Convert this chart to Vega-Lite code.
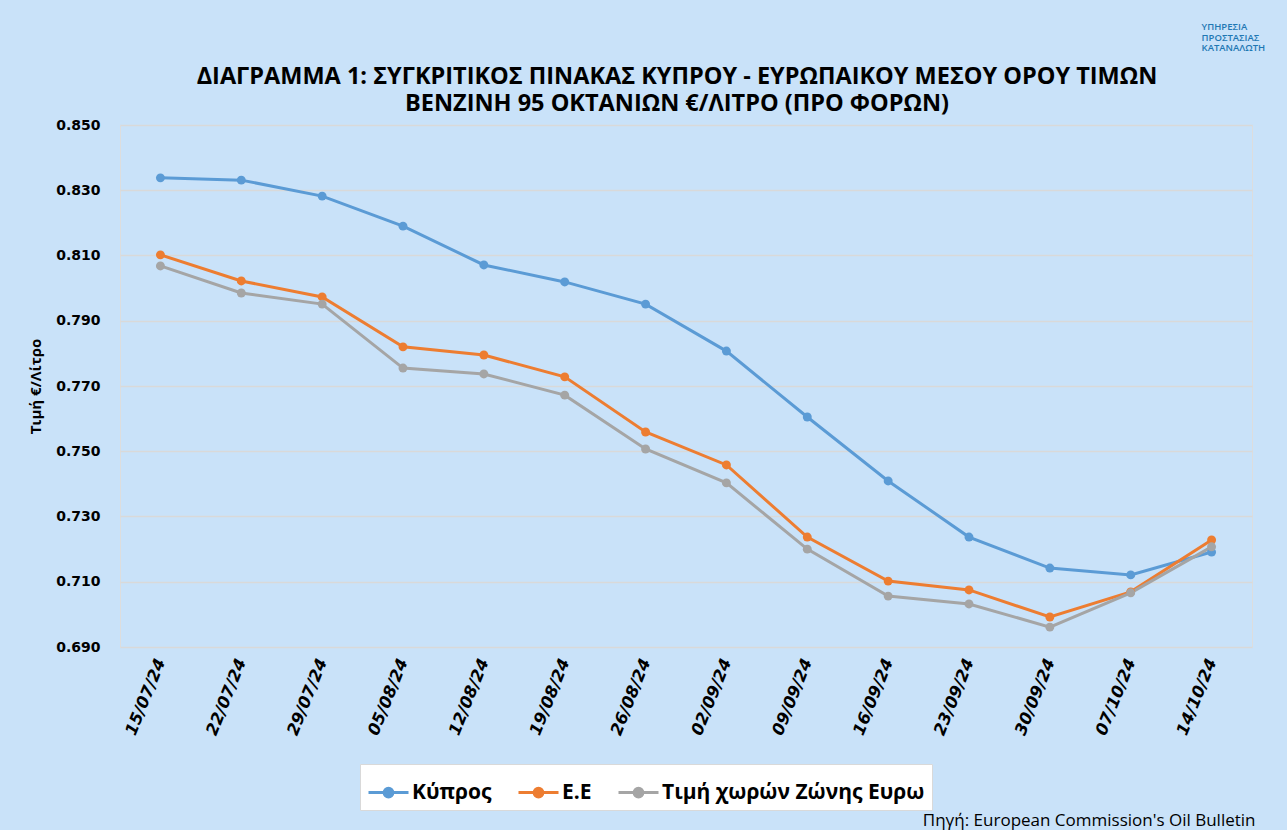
{
  "$schema": "https://vega.github.io/schema/vega-lite/v6.json",
  "width": 1132,
  "height": 522,
  "autosize": {"type": "none"},
  "padding": {"left": 120, "top": 125, "right": 35, "bottom": 183},
  "background": "#c9e2f9",
  "title": {
    "text": ["ΔΙΑΓΡΑΜΜΑ 1: ΣΥΓΚΡΙΤΙΚΟΣ ΠΙΝΑΚΑΣ ΚΥΠΡΟΥ - ΕΥΡΩΠΑΙΚΟΥ ΜΕΣΟΥ ΟΡΟΥ ΤΙΜΩΝ", "ΒΕΝΖΙΝΗ 95 ΟΚΤΑΝΙΩΝ €/ΛΙΤΡΟ (ΠΡΟ ΦΟΡΩΝ)"],
    "font": "Open Sans",
    "fontSize": 23.5,
    "fontWeight": "bold",
    "color": "#000000",
    "lineHeight": 27,
    "anchor": "middle",
    "dx": -9,
    "offset": -93
  },
  "datasets": {
    "prices": [
      {"date": "15/07/24", "series": "Κύπρος", "value": 0.8338},
      {"date": "22/07/24", "series": "Κύπρος", "value": 0.8331},
      {"date": "29/07/24", "series": "Κύπρος", "value": 0.8282},
      {"date": "05/08/24", "series": "Κύπρος", "value": 0.8190},
      {"date": "12/08/24", "series": "Κύπρος", "value": 0.8071},
      {"date": "19/08/24", "series": "Κύπρος", "value": 0.8019},
      {"date": "26/08/24", "series": "Κύπρος", "value": 0.7951},
      {"date": "02/09/24", "series": "Κύπρος", "value": 0.7807},
      {"date": "09/09/24", "series": "Κύπρος", "value": 0.7605},
      {"date": "16/09/24", "series": "Κύπρος", "value": 0.7409},
      {"date": "23/09/24", "series": "Κύπρος", "value": 0.7237},
      {"date": "30/09/24", "series": "Κύπρος", "value": 0.7142},
      {"date": "07/10/24", "series": "Κύπρος", "value": 0.7121},
      {"date": "14/10/24", "series": "Κύπρος", "value": 0.7191},
      {"date": "15/07/24", "series": "Ε.Ε", "value": 0.8102},
      {"date": "22/07/24", "series": "Ε.Ε", "value": 0.8022},
      {"date": "29/07/24", "series": "Ε.Ε", "value": 0.7973},
      {"date": "05/08/24", "series": "Ε.Ε", "value": 0.7820},
      {"date": "12/08/24", "series": "Ε.Ε", "value": 0.7795},
      {"date": "19/08/24", "series": "Ε.Ε", "value": 0.7728},
      {"date": "26/08/24", "series": "Ε.Ε", "value": 0.7559},
      {"date": "02/09/24", "series": "Ε.Ε", "value": 0.7458},
      {"date": "09/09/24", "series": "Ε.Ε", "value": 0.7237},
      {"date": "16/09/24", "series": "Ε.Ε", "value": 0.7102},
      {"date": "23/09/24", "series": "Ε.Ε", "value": 0.7075},
      {"date": "30/09/24", "series": "Ε.Ε", "value": 0.6992},
      {"date": "07/10/24", "series": "Ε.Ε", "value": 0.7069},
      {"date": "14/10/24", "series": "Ε.Ε", "value": 0.7228},
      {"date": "15/07/24", "series": "Τιμή χωρών Ζώνης Ευρω", "value": 0.8068},
      {"date": "22/07/24", "series": "Τιμή χωρών Ζώνης Ευρω", "value": 0.7985},
      {"date": "29/07/24", "series": "Τιμή χωρών Ζώνης Ευρω", "value": 0.7951},
      {"date": "05/08/24", "series": "Τιμή χωρών Ζώνης Ευρω", "value": 0.7755},
      {"date": "12/08/24", "series": "Τιμή χωρών Ζώνης Ευρω", "value": 0.7737},
      {"date": "19/08/24", "series": "Τιμή χωρών Ζώνης Ευρω", "value": 0.7672},
      {"date": "26/08/24", "series": "Τιμή χωρών Ζώνης Ευρω", "value": 0.7507},
      {"date": "02/09/24", "series": "Τιμή χωρών Ζώνης Ευρω", "value": 0.7403},
      {"date": "09/09/24", "series": "Τιμή χωρών Ζώνης Ευρω", "value": 0.7200},
      {"date": "16/09/24", "series": "Τιμή χωρών Ζώνης Ευρω", "value": 0.7056},
      {"date": "23/09/24", "series": "Τιμή χωρών Ζώνης Ευρω", "value": 0.7032},
      {"date": "30/09/24", "series": "Τιμή χωρών Ζώνης Ευρω", "value": 0.6961},
      {"date": "07/10/24", "series": "Τιμή χωρών Ζώνης Ευρω", "value": 0.7066},
      {"date": "14/10/24", "series": "Τιμή χωρών Ζώνης Ευρω", "value": 0.7207}
    ]
  },
  "layer": [
    {
      "data": {"name": "prices"},
      "mark": {"type": "line", "strokeWidth": 3, "point": {"filled": true, "size": 80}},
      "encoding": {
        "x": {
          "field": "date",
          "type": "ordinal",
          "sort": null,
          "scale": {"type": "point", "padding": 0.5},
          "axis": {
            "title": "Πηγή: European Commission's Oil Bulletin",
            "titleFont": "Open Sans",
            "titleFontSize": 17,
            "titleFontWeight": "normal",
            "titleColor": "#000000",
            "titleX": 1135,
            "titleY": 178,
            "titleAlign": "right",
            "titleBaseline": "alphabetic",
            "labelAngle": -68,
            "labelAlign": "right",
            "labelBaseline": "middle",
            "labelFont": "DejaVu Sans",
            "labelFontSize": 16.5,
            "labelFontWeight": "bold",
            "labelFontStyle": "italic",
            "labelColor": "#000000",
            "labelPadding": 12,
            "ticks": false,
            "domain": false,
            "grid": false
          }
        },
        "y": {
          "field": "value",
          "type": "quantitative",
          "scale": {"domain": [0.69, 0.85], "nice": false, "zero": false},
          "axis": {
            "title": "Τιμή €/Λίτρο",
            "titleFont": "Open Sans",
            "titleFontSize": 15,
            "titleFontWeight": "bold",
            "titleColor": "#000000",
            "titlePadding": 12,
            "values": [0.69, 0.71, 0.73, 0.75, 0.77, 0.79, 0.81, 0.83, 0.85],
            "format": ".3f",
            "labelFont": "DejaVu Sans",
            "labelFontSize": 14,
            "labelFontWeight": "bold",
            "labelColor": "#000000",
            "labelPadding": 20,
            "ticks": false,
            "domain": false,
            "grid": true,
            "gridColor": "#d9d9d9",
            "gridWidth": 1.5
          }
        },
        "color": {
          "field": "series",
          "type": "nominal",
          "sort": ["Κύπρος", "Ε.Ε", "Τιμή χωρών Ζώνης Ευρω"],
          "scale": {"domain": ["Κύπρος", "Ε.Ε", "Τιμή χωρών Ζώνης Ευρω"], "range": ["#5b9bd5", "#ed7d31", "#a5a5a5"]},
          "legend": {
            "title": null,
            "orient": "none",
            "legendX": 240,
            "legendY": 639,
            "direction": "horizontal",
            "labelFont": "Open Sans",
            "labelFontSize": 21,
            "labelFontWeight": "bold",
            "labelColor": "#000000",
            "labelLimit": 500,
            "symbolType": "M-1,0H-0.22A0.22,0.22 0 1,1 0.22,0A0.22,0.22 0 1,1 -0.22,0M0.22,0H1",
            "symbolSize": 1600,
            "symbolStrokeWidth": 3,
            "columnPadding": 20,
            "labelOffset": 2,
            "fillColor": "#ffffff",
            "strokeColor": "#d9d9d9",
            "padding": 7,
            "encode": {"symbols": {"update": {"fill": {"scale": "color", "field": "value"}, "fillOpacity": {"value": 1}}}}
          }
        }
      }
    },
    {
      "data": {"values": [{}]},
      "mark": {"type": "text", "font": "Open Sans", "fontSize": 9.5, "fontWeight": 600, "color": "#1f78b4", "align": "left", "baseline": "top", "lineHeight": 10.5, "dx": -10},
      "encoding": {
        "x": {"datum": "14/10/24", "type": "ordinal"},
        "y": {"datum": 0.8815, "type": "quantitative"},
        "text": {"value": ["ΥΠΗΡΕΣΙΑ", "ΠΡΟΣΤΑΣΙΑΣ", "ΚΑΤΑΝΑΛΩΤΗ"]}
      }
    }
  ]
}
